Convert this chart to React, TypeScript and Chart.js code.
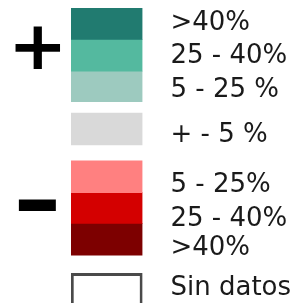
import React, { useEffect, useRef } from "react";
import { Chart, registerables } from "chart.js";

Chart.register(...registerables);

// Legend entries (rows measured in "row units" on the vertical scale)
const entryNames = [">40% (+)", "25-40% (+)", "5-25% (+)", "±5%", "5-25% (-)", "25-40% (-)", ">40% (-)", "Sin datos"];
const entryRanges: [number, number][] = [
  [0, 0.99],
  [0.99, 2.0],
  [2.0, 2.97],
  [3.34, 4.35],
  [4.86, 5.87],
  [5.87, 6.85],
  [6.85, 7.86],
  [8.44, 9.6],
];
const entryColors = ["#217b70", "#54b99f", "#9dcabf", "#d9d9d9", "#ff8080", "#d40000", "#7d0000", "#ffffff"];
const entryBorders = [0, 0, 0, 0, 0, 0, 0, 3];

const labelTexts = [">40%", "25 - 40%", "5 - 25 %", "+ - 5 %", "5 - 25%", "25 - 40%", ">40%", "Sin datos"];
const labelBaselines = [0.69, 1.75, 2.82, 4.25, 5.84, 6.93, 7.86, 9.14];

const signTexts = ["+", "\u2212"];
const signCenters = [1.23, 6.26];

const Y_MIN = -0.264;
const Y_MAX = 9.385;

export default function App() {
  const ref = useRef<HTMLCanvasElement | null>(null);

  useEffect(() => {
    const canvas = ref.current;
    if (!canvas) return;

    const textPlugin = {
      id: "legendText",
      afterDatasetsDraw(chart: any) {
        const ctx = chart.ctx;
        const ys = chart.scales.y;
        const area = chart.chartArea;
        ctx.save();
        ctx.fillStyle = "#1a1a1a";
        ctx.font = '26px "DejaVu Sans"';
        ctx.textAlign = "left";
        ctx.textBaseline = "alphabetic";
        labelTexts.forEach((t, i) => {
          ctx.fillText(t, area.right + 28, ys.getPixelForValue(labelBaselines[i]));
        });
        // +/- signs, scaled to fit their boxes
        const boxes = [
          { w: 45, h: 44.5, cx: 37.5 },
          { w: 37.4, h: 13.4, cx: 37 },
        ];
        ctx.fillStyle = "#000000";
        ctx.font = 'bold 60px "DejaVu Sans"';
        signTexts.forEach((s, i) => {
          const m = ctx.measureText(s);
          const inkW = m.actualBoundingBoxLeft + m.actualBoundingBoxRight;
          const inkH = m.actualBoundingBoxAscent + m.actualBoundingBoxDescent;
          const b = boxes[i];
          const cy = ys.getPixelForValue(signCenters[i]);
          ctx.save();
          ctx.translate(b.cx, cy);
          ctx.scale(b.w / inkW, b.h / inkH);
          ctx.fillText(
            s,
            -(m.actualBoundingBoxRight - m.actualBoundingBoxLeft) / 2,
            (m.actualBoundingBoxAscent - m.actualBoundingBoxDescent) / 2
          );
          ctx.restore();
        });
        ctx.restore();
      },
    };

    const chart = new Chart(canvas, {
      type: "bar",
      data: {
        labels: [""],
        datasets: entryNames.map((name, i) => ({
          label: name,
          data: [entryRanges[i]],
          backgroundColor: entryColors[i],
          borderColor: "#4a4a4a",
          borderWidth: entryBorders[i],
          borderSkipped: false,
          categoryPercentage: 1,
          barPercentage: 1,
          grouped: false,
        })) as any,
      },
      options: {
        animation: false,
        responsive: false,
        devicePixelRatio: 1,
        layout: { padding: { left: 71, right: 153.5, top: 0, bottom: 0 } },
        plugins: { legend: { display: false }, tooltip: { enabled: false } },
        scales: {
          x: { display: false },
          y: { display: false, min: Y_MIN, max: Y_MAX, reverse: true },
        },
      } as any,
      plugins: [textPlugin],
    });
    return () => chart.destroy();
  }, []);

  return (
    <div style={{ position: "absolute", left: 0, top: 0, width: 296, height: 303, background: "#ffffff" }}>
      <canvas ref={ref} width={296} height={303} style={{ display: "block" }} />
    </div>
  );
}
